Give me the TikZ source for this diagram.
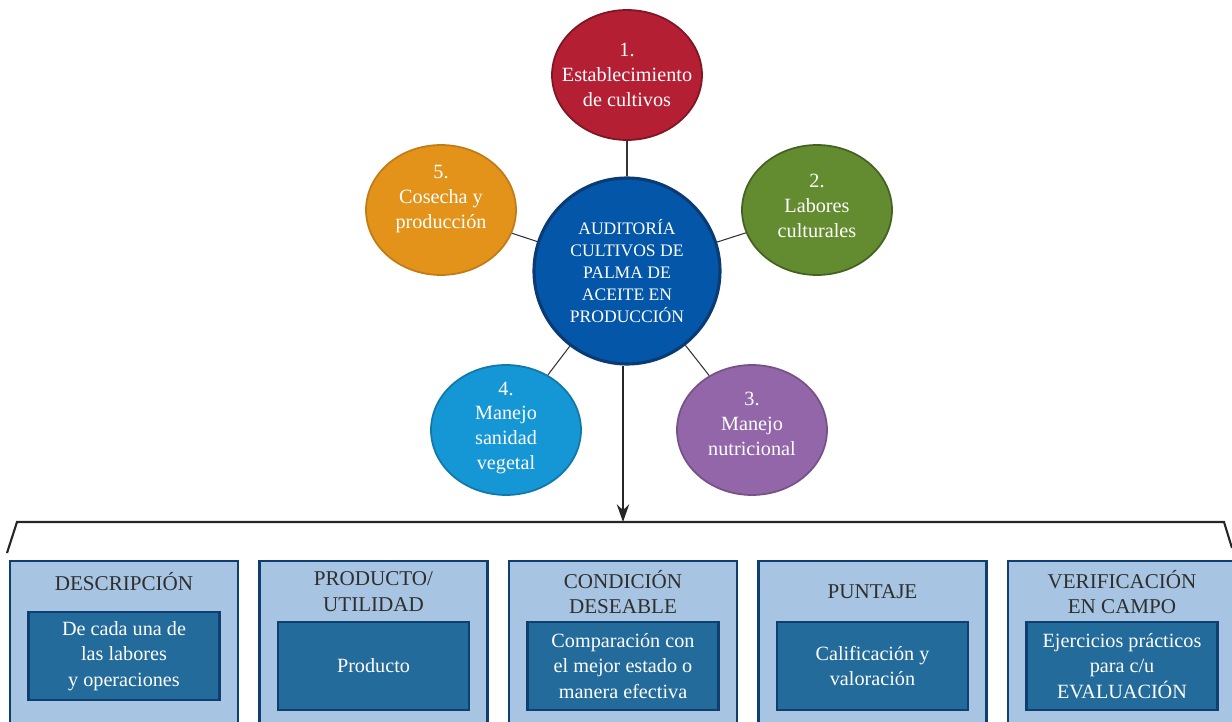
\documentclass[tikz,border=0pt]{standalone}
\usepackage{fontspec}
\setmainfont{Liberation Serif}
\usetikzlibrary{shapes.geometric,arrows.meta,positioning}

\definecolor{redstage}{HTML}{B51F33}
\definecolor{greenstage}{HTML}{638C30}
\definecolor{orangestage}{HTML}{E3921A}
\definecolor{cyanstage}{HTML}{1596D5}
\definecolor{purplestage}{HTML}{9366A9}
\definecolor{hubblue}{HTML}{0457A8}
\definecolor{hubborder}{HTML}{0A3B75}
\definecolor{boxlight}{HTML}{A7C5E2}
\definecolor{boxdark}{HTML}{236B9B}
\definecolor{boxborder}{HTML}{0E3F6E}
\definecolor{titlegray}{HTML}{2E2E2E}

\begin{document}
\begin{tikzpicture}[
      x=0.02cm, y=-0.02cm,
      stage/.style={ellipse, minimum width=3cm, minimum height=2.6cm, inner sep=0pt,
        line width=1pt},
      stagetext/.style={text=white, align=center, inner sep=0pt,
        font=\fontsize{11.5}{14.2}\selectfont},
      hub/.style={circle, minimum size=3.72cm, inner sep=0pt, fill=hubblue, draw=hubborder,
        line width=1.8pt, text=white, align=center, font=\fontsize{10}{12.5}\selectfont},
      link/.style={draw=black!80, line width=0.6pt},
      outerbox/.style={rectangle, anchor=north, minimum width=4.56cm, minimum height=3.8cm,
        fill=boxlight, draw=boxborder, line width=1.3pt},
      boxtitle/.style={align=center, text=titlegray, font=\fontsize{12}{14.7}\selectfont},
      innerbox/.style={rectangle, minimum width=3.82cm, minimum height=1.76cm, inner sep=0pt,
        fill=boxdark, draw=boxborder, line width=1.3pt, text=white, align=center,
        font=\fontsize{11.5}{14.5}\selectfont}
    ]
    \useasboundingbox (0, 0) rectangle (1232, 722);

    % centre and the five stages
    \node [hub] (center) at (627, 271) {AUDITORÍA\\CULTIVOS DE\\PALMA DE\\ACEITE EN\\PRODUCCIÓN};
    \node [stage, fill=redstage, draw=redstage!70!black] (c1) at (627, 75) {};
    \node [stage, fill=greenstage, draw=greenstage!70!black] (c2) at (817, 210) {};
    \node [stage, fill=purplestage, draw=purplestage!80!black] (c3) at (752, 430) {};
    \node [stage, fill=cyanstage, draw=cyanstage!80!black] (c4) at (506, 430) {};
    \node [stage, fill=orangestage, draw=orangestage!85!black] (c5) at (441, 210) {};

    \node [stagetext] (t1) at (627, 75) {1.\\Establecimiento\\de cultivos};
    \node [stagetext] (t2) at (817, 206) {2.\\Labores\\culturales};
    \node [stagetext] (t3) at (752, 424) {3.\\Manejo\\nutricional};
    \node [stagetext] (t4) at (506, 428) {4.\\Manejo\\sanidad\\vegetal};
    \node [stagetext] (t5) at (441, 199) {5.\\Cosecha y\\producción};

    % connectors
    \draw [link, line width=1pt] (center) -- (c1);
    \foreach \k in {2, ..., 5} {
      \draw [link] (center) -- (c\k);
    }

    % bracket and arrow
    \coordinate (brk) at (623, 522);
    \draw [black!85, line width=1.2pt] (7, 553) -- (17, 522) -- (1224, 522) -- (1232, 548);
    \draw [black!85, line width=1.2pt, -{Stealth[length=10pt, width=7pt]}] (center.south -| brk) -- (brk);

    % bottom boxes
    \begin{scope}
      \clip (0, 0) rectangle (1232, 722);
      \foreach \i/\ty/\iy/\title/\body in {
          0/582/656/{DESCRIPCIÓN}/{De cada una de\\las labores\\y operaciones},
          1/592/666/{PRODUCTO/\\UTILIDAD}/{Producto},
          2/592/666/{CONDICIÓN\\DESEABLE}/{Comparación con\\el mejor estado o\\manera efectiva},
          3/592/666/{PUNTAJE}/{Calificación y\\valoración},
          4/592/666/{VERIFICACIÓN\\EN CAMPO}/{Ejercicios prácticos\\para c/u\\EVALUACIÓN}} {
        \node [outerbox] (box\i) at ({124 + 249.5*\i}, 560) {};
        \node [boxtitle] (title\i) at ({124 + 249.5*\i}, \ty) {\title};
        \node [innerbox] (inner\i) at ({124 + 249.5*\i}, \iy) {\body};
      }
    \end{scope}
  \end{tikzpicture}
\end{document}
